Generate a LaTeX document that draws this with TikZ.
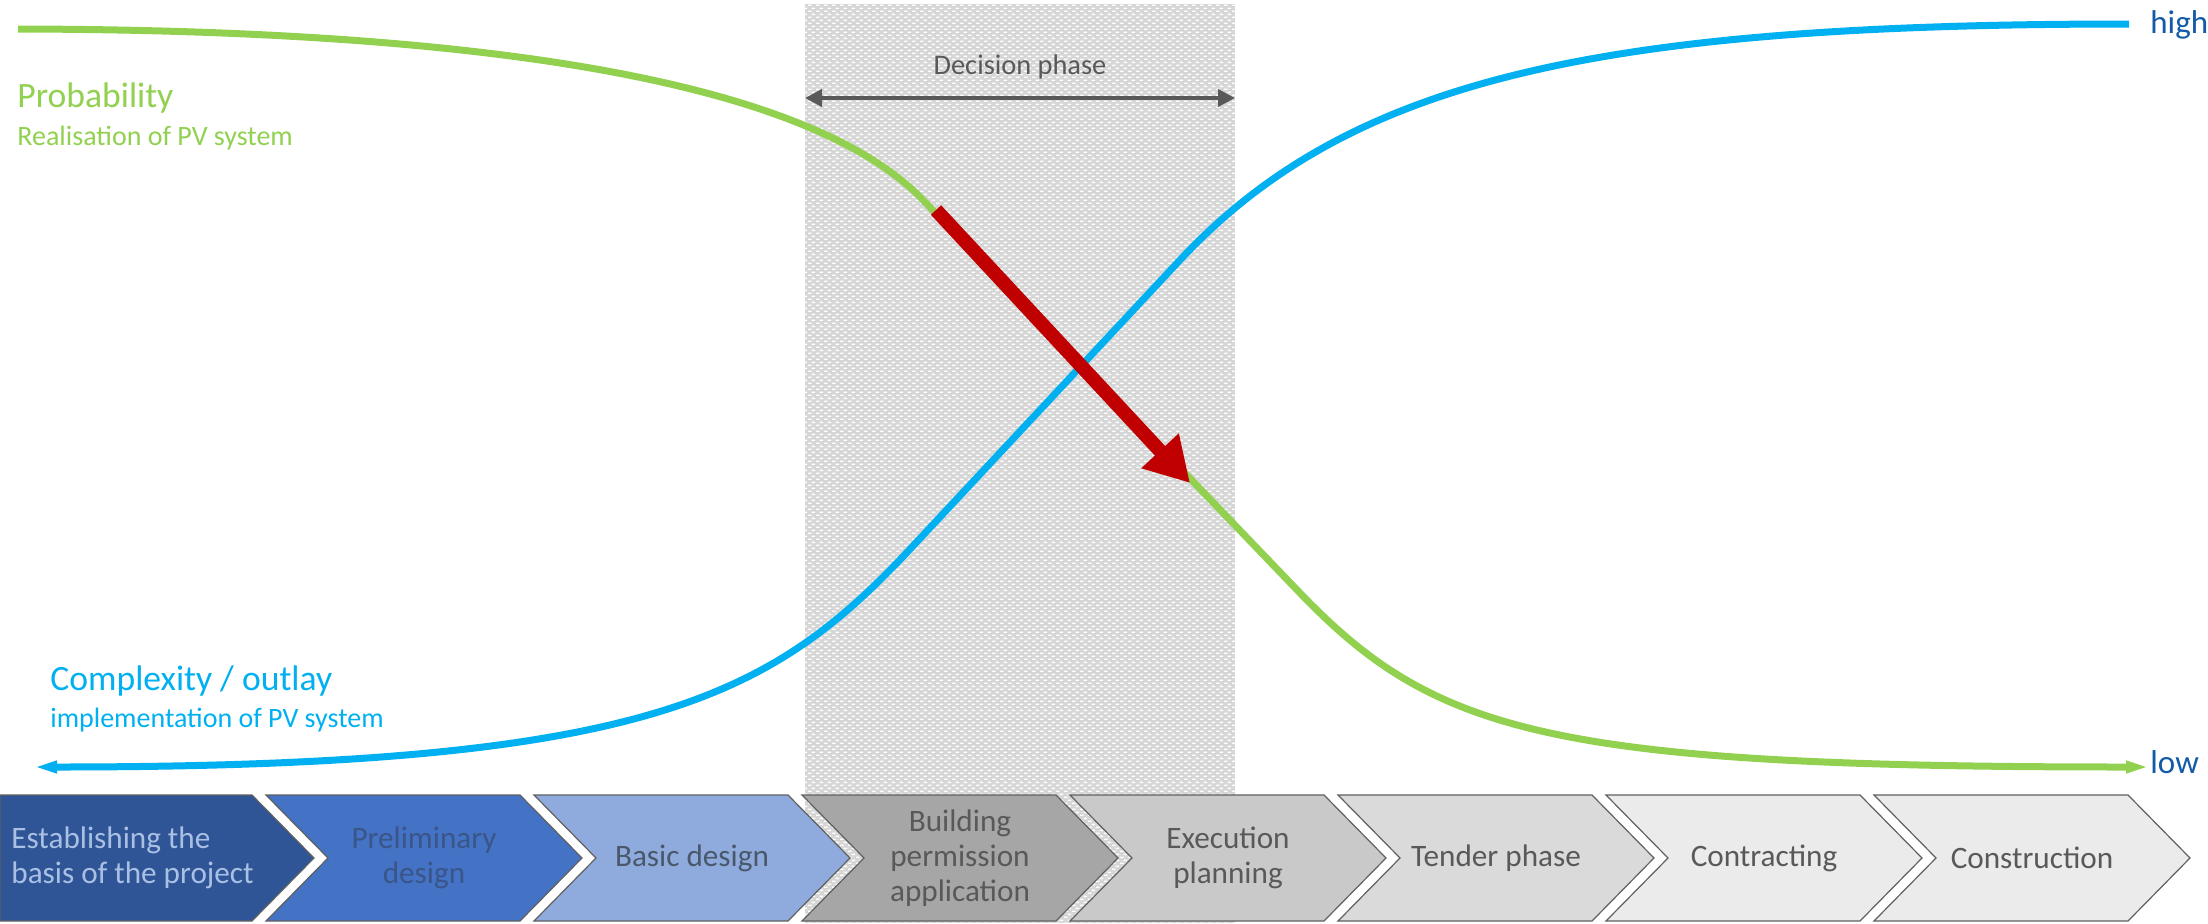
\documentclass[tikz,border=0pt]{standalone}
\usepackage{fontspec}
\setmainfont{Carlito}
\usetikzlibrary{arrows.meta,patterns}
\definecolor{pvgreen}{HTML}{92D050}
\definecolor{pvblue}{HTML}{00B0F0}
\definecolor{pvred}{HTML}{C00000}
\definecolor{hlblue}{HTML}{135BA6}
\definecolor{decgray}{HTML}{595959}
\definecolor{bandgray}{HTML}{D6D6D6}
\definecolor{cA}{HTML}{2F5597}
\definecolor{cB}{HTML}{4472C4}
\definecolor{cC}{HTML}{8FAADC}
\definecolor{cD}{HTML}{A6A6A6}
\definecolor{cE}{HTML}{C9C9C9}
\definecolor{cF}{HTML}{DADADA}
\definecolor{cG}{HTML}{EBEBEB}
\definecolor{tA}{HTML}{A9C0E4}
\definecolor{tB}{HTML}{3A5589}
\definecolor{tC}{HTML}{4A586C}
\definecolor{tD}{HTML}{595959}
\pgfdeclarepatternformonly{brickdash}{\pgfqpoint{0pt}{0pt}}{\pgfqpoint{4pt}{3.2pt}}{\pgfqpoint{4pt}{3.2pt}}{%
  \pgfpathrectangle{\pgfqpoint{0pt}{0pt}}{\pgfqpoint{2pt}{0.8pt}}%
  \pgfpathrectangle{\pgfqpoint{2pt}{1.6pt}}{\pgfqpoint{2pt}{0.8pt}}%
  \pgfusepath{fill}}
\tikzset{
  chev/.style={draw=gray!75!black, line width=0.6pt},
  chevtxt/.style={align=center, inner sep=0pt, font=\fontsize{15.6}{17.6}\selectfont},
  curvegreen/.style={draw=pvgreen, line width=3.5pt, line cap=butt},
  curveblue/.style={draw=pvblue, line width=3.5pt, line cap=butt},
  biglbl/.style={anchor=base west, inner sep=0pt, font=\fontsize{17.8}{20}\selectfont},
  smalllbl/.style={anchor=base west, inner sep=0pt, font=\fontsize{14}{16}\selectfont},
  hilo/.style={anchor=base west, inner sep=0pt, text=hlblue, font=\fontsize{16.5}{18}\selectfont},
}
\begin{document}
\begin{tikzpicture}[x=0.5pt,y=-0.5pt]
\useasboundingbox (0,0) rectangle (2208,923);
% decision band
\fill[bandgray] (805,4) rectangle (1235,923);
\fill[pattern=brickdash, pattern color=white] (805,4) rectangle (1235,923);
% chevrons
\path[chev, fill=cA] (0,795) -- (252,795) -- (314,858) -- (252,921) -- (0,921) -- cycle;
\foreach \i/\fc in {1/cB,2/cC,3/cD,4/cE,5/cF,6/cG,7/cG}{
  \path[chev, fill=\fc] ({-2+268*\i},795) -- ++(254,0) -- ++(62,63) -- ++(-62,63) -- ++(-254,0) -- ++(62,-63) -- cycle;
}
\node[chevtxt, anchor=west, align=left, text=tA] (t1) at (11,858) {Establishing the\\basis of the project};
\node[chevtxt, text=tB] (t2) at ({-2+268*1+158},858) {Preliminary\\design};
\node[chevtxt, text=tC] (t3) at ({-2+268*2+158},858) {Basic design};
\node[chevtxt, text=tD] (t4) at ({-2+268*3+158},858) {Building\\permission\\application};
\node[chevtxt, text=tD] (t5) at ({-2+268*4+158},858) {Execution\\planning};
\node[chevtxt, text=tD] (t6) at ({-2+268*5+158},858) {Tender phase};
\node[chevtxt, text=tD] (t7) at ({-2+268*6+158},858) {Contracting};
\node[chevtxt, text=tD] (t8) at ({-2+268*7+158},858) {Construction};
% decision phase arrow
\coordinate (dl) at (805,98);
\coordinate (dr) at (1235,98);
\draw[decgray, line width=2pt, {Triangle[length=8.5pt,width=8.5pt]}-{Triangle[length=8.5pt,width=8.5pt]}] (dl) -- (dr);
\node[anchor=base, inner sep=0pt, text=decgray, font=\fontsize{14.2}{16}\selectfont] (dec) at (1020,74) {Decision phase};
% blue curve
\coordinate (bs) at (33,767);
\coordinate (bm1) at (912,547);
\coordinate (bm2) at (1180,260);
\coordinate (be) at (2129,24);
\draw[curveblue, {Triangle[length=12pt,width=5.5pt]}-]
  (bs) .. controls (650,767) and (772,697) .. (bm1)
  -- (bm2)
  .. controls (1350,78) and (1600,24) .. (be);
% green curve
\coordinate (gs) at (18,29);
\coordinate (gm1) at (923,200);
\coordinate (gm2) at (1300,593);
\coordinate (ge) at (2150,767);
\draw[curvegreen, -{Triangle[length=12pt,width=5.5pt]}]
  (gs) .. controls (550,30) and (823,96) .. (gm1)
  -- (gm2)
  .. controls (1435,733) and (1550,767) .. (ge);
% red arrow
\coordinate (rs) at (936,210);
\coordinate (re) at (1190,483);
\draw[pvred, line width=7pt, -{Triangle[length=22pt,width=24pt]}] (rs) -- (re);
% labels
\node[biglbl, text=pvgreen] (prob) at (17,107) {Probability};
\node[smalllbl, text=pvgreen] (real) at (17,145) {Realisation of PV system};
\node[biglbl, text=pvblue] (comp) at (50,690) {Complexity / outlay};
\node[smalllbl, text=pvblue] (impl) at (50,727) {implementation of PV system};
\node[hilo] (high) at (2150,33) {high};
\node[hilo] (low) at (2150,773) {low};
\end{tikzpicture}
\end{document}
